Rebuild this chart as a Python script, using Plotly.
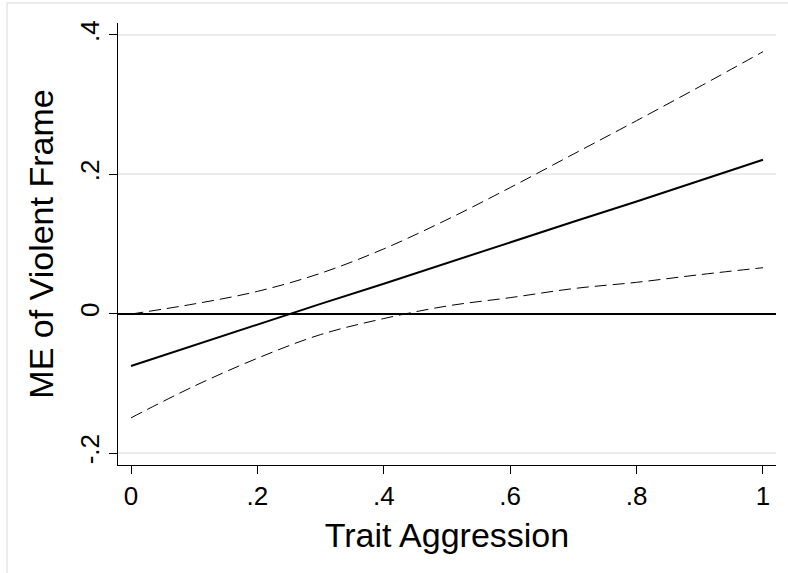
import plotly.graph_objects as go

# Data
trait_aggression = [0.0, 0.1, 0.2, 0.3, 0.4, 0.5, 0.6, 0.7, 0.8, 0.9, 1.0]
me_violent_frame = [-0.075, -0.045, -0.016, 0.014, 0.043, 0.073, 0.102, 0.132, 0.161, 0.191, 0.221]
ci_upper = [-0.0005, 0.014, 0.032, 0.058, 0.093, 0.135, 0.181, 0.229, 0.277, 0.326, 0.376]
ci_lower = [-0.1495, -0.104, -0.064, -0.030, -0.007, 0.011, 0.023, 0.036, 0.045, 0.056, 0.066]

x_tickvals = [0, 0.2, 0.4, 0.6, 0.8, 1.0]
x_ticktext = ["0", ".2", ".4", ".6", ".8", "1"]
y_tickvals = [-0.2, 0, 0.2, 0.4]
y_ticktext = ["-.2", "0", ".2", ".4"]

FONT = "Liberation Sans, Arial, Helvetica, sans-serif"

fig = go.Figure()
fig.add_trace(go.Scatter(x=trait_aggression, y=ci_upper, mode="lines",
                         line=dict(color="black", width=1, dash="12px,6px", shape="spline"),
                         showlegend=False, hoverinfo="skip"))
fig.add_trace(go.Scatter(x=trait_aggression, y=ci_lower, mode="lines",
                         line=dict(color="black", width=1, dash="12px,6px", shape="spline"),
                         showlegend=False, hoverinfo="skip"))
fig.add_trace(go.Scatter(x=trait_aggression, y=me_violent_frame, mode="lines",
                         line=dict(color="black", width=2),
                         showlegend=False))

# outer light frame (Stata graph region border)
fig.add_shape(type="rect", xref="paper", yref="paper",
              x0=-0.1687, x1=1.03, y0=-0.3, y1=1.0452,
              line=dict(color="#e6e6e6", width=1.5), layer="below")

fig.update_layout(
    width=788, height=573,
    margin=dict(l=118, r=12, t=23, b=108),
    paper_bgcolor="white", plot_bgcolor="white",
    font=dict(family=FONT, color="black"),
    xaxis=dict(
        range=[-0.0206, 1.0206],
        tickvals=x_tickvals, ticktext=x_ticktext,
        tickfont=dict(size=26, color="black"),
        ticks="outside", ticklen=8, tickcolor="black", tickwidth=1,
        showgrid=False, zeroline=False,
        showline=True, linecolor="black", linewidth=1.2,
        title=dict(text="Trait Aggression", font=dict(size=34, color="black"), standoff=12),
    ),
    yaxis=dict(
        range=[-0.2172, 0.4172],
        tickvals=y_tickvals, ticktext=y_ticktext, tickangle=-90,
        tickfont=dict(size=26, color="black"),
        ticks="outside", ticklen=8, tickcolor="black", tickwidth=1,
        showgrid=True, gridcolor="#ebebeb", gridwidth=1.5,
        zeroline=True, zerolinecolor="black", zerolinewidth=1.6,
        showline=True, linecolor="black", linewidth=1.2,
        title=dict(text="ME of Violent Frame", font=dict(size=34, color="black"), standoff=10),
    ),
)

fig.write_html("out.html", config={"displayModeBar": False},
               post_script="document.body.style.margin='0';")
